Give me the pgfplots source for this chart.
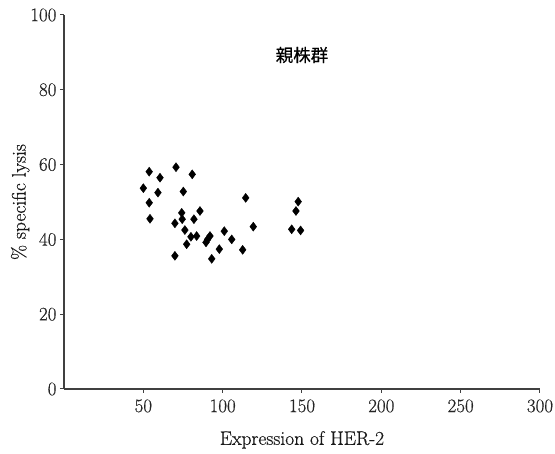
\documentclass[border=0pt]{standalone}
\usepackage{pgfplots}
\pgfplotsset{compat=1.18}
\usepackage{fontspec}
\setmainfont{Latin Modern Roman}[FakeBold=0.5]
\newfontfamily\cjk{Noto Sans CJK JP}[FakeBold=0.6]
\begin{document}
\begin{tikzpicture}
\useasboundingbox (-64pt,-65pt) rectangle (491pt,389pt);
\begin{axis}[
  at={(0,0)}, anchor=south west,
  scale only axis,
  width=476pt, height=374pt,
  xmin=0, xmax=300, ymin=0, ymax=100,
  axis lines=left,
  axis line style={-, black!75, line width=1.3pt},
  xtick={50,100,...,300},
  ytick={0,20,...,100},
  tick align=outside,
  major tick length=4pt,
  tick style={black!75, line width=1pt},
  /pgf/number format/assume math mode=true,
  ticklabel style={font=\fontsize{19}{22}\selectfont, text=black!85},
  xticklabel style={yshift=-3pt},
  xlabel={Expression of HER-2},
  ylabel={\% specific lysis},
  label style={font=\fontsize{19.5}{22}\selectfont, text=black!90},
  xlabel style={at={(axis description cs:0.5,-0.136)}, anchor=center},
  ylabel style={at={(axis description cs:-0.092,0.5)}, anchor=center},
  clip=false,
]
\addplot[only marks, mark=diamond*, mark size=4.5pt, black] coordinates {
(53.7,58.1) (60.5,56.5) (70.6,59.3) (80.8,57.4) (50.0,53.7) (59.2,52.5)
(75.2,52.8) (53.7,49.8) (54.2,45.5) (114.5,51.1) (147.6,50.1) (146.2,47.6)
(74.2,47.1) (85.7,47.6) (74.5,45.4) (69.9,44.3) (81.9,45.4) (76.2,42.5)
(119.3,43.4) (143.5,42.7) (149.1,42.4) (101.0,42.2) (80.0,40.7) (83.6,40.9)
(92.0,40.9) (90.5,40.0) (89.5,39.2) (105.7,40.0) (77.3,38.7) (97.9,37.4)
(112.6,37.2) (69.9,35.6) (93.1,34.8)
};
\node[font=\cjk\fontsize{17.5}{20}\selectfont] at (axis cs:150,89.3) {親株群};
\end{axis}
\end{tikzpicture}
\end{document}
